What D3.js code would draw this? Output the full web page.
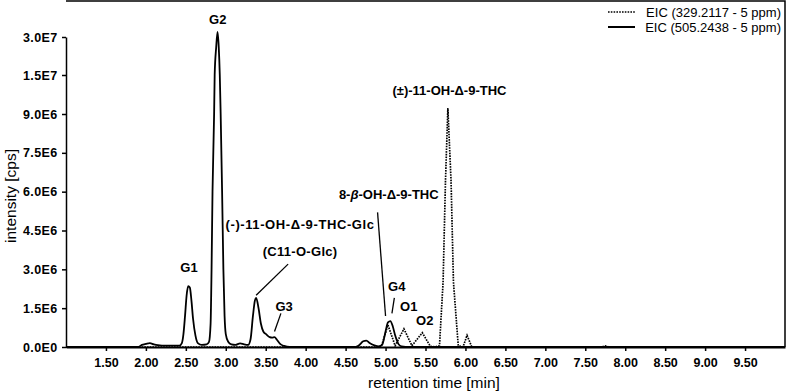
<!DOCTYPE html>
<html>
<head>
<meta charset="utf-8">
<script src="https://cdn.jsdelivr.net/npm/d3@7"></script>
<style>
    body { margin: 0; background: #fff; }
    svg text { font-family: "Liberation Sans", Arial, sans-serif; fill: #000; }
    .tick text { font-weight: bold; font-size: 12.5px; }
    .peak-label { font-weight: bold; font-size: 13px; }
</style>
</head>
<body>
<svg id="chart" width="787" height="391"></svg>
<script>
/**
 * Data: retention time [min], intensity [cps].
 */
// EIC (505.2438 - 5 ppm), solid trace
const eic505 = [
    [1.00, 0], [1.90, 0], [1.95, 0.08e6], [2.00, 0.12e6], [2.05, 0.15e6], [2.10, 0.10e6],
    [2.15, 0.07e6], [2.25, 0.05e6], [2.35, 0.05e6], [2.42, 0.05e6],
    // G1
    [2.45, 0.15e6], [2.47, 0.5e6], [2.49, 1.2e6], [2.51, 2.0e6], [2.53, 2.35e6], [2.55, 2.3e6],
    [2.57, 1.8e6], [2.59, 1.1e6], [2.62, 0.45e6], [2.65, 0.15e6], [2.70, 0.08e6], [2.76, 0.1e6],
    // G2
    [2.79, 0.2e6], [2.81, 0.9e6], [2.822, 3.0e6], [2.834, 6e6], [2.854, 9e6], [2.861, 1.5e7],
    [2.88, 2.6e7], [2.897, 3.2e7], [2.912, 2.6e7], [2.925, 1.5e7], [2.936, 9e6], [2.954, 6e6],
    [2.97, 3.0e6], [2.985, 1.2e6], [3.00, 0.5e6], [3.03, 0.2e6], [3.07, 0.1e6], [3.12, 0.08e6],
    [3.18, 0.14e6], [3.23, 0.1e6], [3.28, 0.08e6],
    // (-)-11-OH-Δ-9-THC-Glc and G3
    [3.31, 0.3e6], [3.34, 1.2e6], [3.365, 1.8e6], [3.38, 1.9e6], [3.41, 1.5e6], [3.44, 0.9e6],
    [3.47, 0.6e6], [3.51, 0.48e6], [3.55, 0.38e6], [3.58, 0.36e6], [3.61, 0.38e6], [3.64, 0.28e6],
    [3.68, 0.12e6], [3.73, 0.04e6], [3.80, 0], [4.60, 0],
    // small bump and G4
    [4.66, 0.05e6], [4.72, 0.22e6], [4.76, 0.25e6], [4.80, 0.15e6], [4.86, 0.06e6], [4.92, 0.02e6],
    [4.96, 0.1e6], [5.00, 0.6e6], [5.03, 0.95e6], [5.06, 1.0e6], [5.09, 0.8e6], [5.12, 0.45e6],
    [5.16, 0.12e6], [5.20, 0.02e6], [5.30, 0], [10.0, 0]
];

// EIC (329.2117 - 5 ppm), dotted trace
const eic329 = [
    [1.00, 0], [4.90, 0], [4.95, 0.05e6], [5.03, 0.85e6], [5.12, 0.05e6], [5.23, 0.7e6],
    [5.33, 0.05e6], [5.46, 0.55e6], [5.56, 0.03e6], [5.62, 0], [5.675, 0.05e6], [5.72, 2.5e6],
    [5.75, 6.4e6], [5.78, 9.9e6], [5.82, 6.4e6], [5.85, 2.5e6], [5.91, 0.05e6], [5.97, 0],
    [6.02, 0.45e6], [6.08, 0], [7.70, 0], [7.75, 0.04e6], [7.80, 0], [10.0, 0]
];

const xTicks = [1.5, 2, 2.5, 3, 3.5, 4, 4.5, 5, 5.5, 6, 6.5, 7, 7.5, 8, 8.5, 9, 9.5];
const yTicks = [0, 1.5e6, 3e6, 4.5e6, 6e6, 7.5e6, 9e6, 1.5e7, 3e7];
const yTickLabels = ['0.0E0', '1.5E6', '3.0E6', '4.5E6', '6.0E6', '7.5E6', '9.0E6', '1.5E7', '3.0E7'];

const legendItems = ['EIC (329.2117 - 5 ppm)', 'EIC (505.2438 - 5 ppm)'];

// Peak annotations: label position in data units, optional leader line
const peakLabels = [
    { text: 'G2', t: 2.90, v: 3.5e7 },
    { text: 'G1', t: 2.54, v: 2.9e6 },
    { text: '(-)-11-OH-Δ-9-THC-Glc', t: 3.93, v: 4.55e6, spacing: 0.6 },
    { text: '(C11-O-Glc)', t: 3.93, v: 3.5e6, spacing: 0.3, leader: [[3.78, 3.2e6], [3.38, 2.0e6]] },
    { text: 'G3', t: 3.73, v: 1.4e6, leader: [[3.69, 1.3e6], [3.61, 0.6e6]] },
    { text: '8-β-OH-Δ-9-THC', t: 5.04, v: 5.72e6, leader: [[4.90, 5.2e6], [5.00, 1.2e6]] },
    { text: 'G4', t: 5.14, v: 2.15e6, leader: [[5.11, 1.9e6], [5.08, 1.3e6]] },
    { text: 'O1', t: 5.29, v: 1.4e6 },
    { text: 'O2', t: 5.49, v: 0.85e6 },
    { text: '(±)-11-OH-Δ-9-THC', t: 5.80, v: 1.19e7 }
];

/**
 * Layout.
 */
const margin = { top: 1, right: 2, bottom: 44, left: 66 },
    visWidth = 787, visHeight = 391,
    width = visWidth - margin.left - margin.right,
    height = visHeight - margin.top - margin.bottom;

const svg = d3.select('#chart');
const g = svg.append('g').attr('transform', 'translate(' + margin.left + ',' + margin.top + ')');

/**
 * Scales. The y axis is broken: linear up to 9.0E6, compressed above.
 */
const xScale = d3.scaleLinear().domain([1, 10]).range([0, width]);
const yScale = d3.scaleLinear()
    .domain([0, 9e6, 1.5e7, 3e7])
    .range([height, height - 233, height - 272, height - 310]);

/**
 * Axes.
 */
const xAxis = g.append('g')
    .attr('class', 'x-axis')
    .attr('transform', 'translate(0,' + height + ')')
    .call(d3.axisBottom(xScale).tickValues(xTicks).tickFormat(d3.format('.2f')).tickSize(4).tickSizeOuter(0));
xAxis.select('.domain').attr('stroke-width', 2);
xAxis.selectAll('.tick line').attr('stroke-width', 1.5);
xAxis.selectAll('.tick text').attr('y', 11);

const yAxis = g.append('g')
    .attr('class', 'y-axis')
    .call(d3.axisLeft(yScale).tickValues(yTicks).tickFormat((d, i) => yTickLabels[i]).tickSize(4).tickSizeOuter(0));
yAxis.select('.domain').attr('stroke-width', 1.5);
yAxis.selectAll('.tick line').attr('stroke-width', 1.5);
yAxis.selectAll('.tick text')
    .attr('text-anchor', 'start')
    .attr('letter-spacing', 0.4)
    .attr('x', -43);

// Frame on top and right
g.append('path')
    .attr('d', 'M0,0H' + width + 'V' + height)
    .attr('fill', 'none')
    .attr('stroke', '#000')
    .attr('stroke-width', 1.5);

/**
 * Traces.
 */
const line = d3.line()
    .x(d => xScale(d[0]))
    .y(d => yScale(d[1]));

g.append('path')
    .datum(eic329)
    .attr('fill', 'none')
    .attr('stroke', '#000')
    .attr('stroke-width', 1.7)
    .attr('stroke-dasharray', '1.6,1.1')
    .attr('d', line.curve(d3.curveLinear));

g.append('path')
    .datum(eic505)
    .attr('fill', 'none')
    .attr('stroke', '#000')
    .attr('stroke-width', 1.8)
    .attr('stroke-linejoin', 'round')
    .attr('d', line.curve(d3.curveMonotoneX));

/**
 * Peak labels.
 */
const labels = g.selectAll('.peak-label').data(peakLabels).enter();

labels.append('text')
    .attr('class', 'peak-label')
    .attr('text-anchor', 'middle')
    .attr('letter-spacing', d => d.spacing || null)
    .attr('x', d => xScale(d.t))
    .attr('y', d => yScale(d.v))
    .each(function(d) {
        const text = d3.select(this);
        if (d.text.indexOf('β') < 0) {
            text.text(d.text);
            return;
        }
        const parts = d.text.split('β');
        text.append('tspan').text(parts[0]);
        text.append('tspan').attr('font-style', 'italic').text('β');
        text.append('tspan').text(parts[1]);
    });

g.selectAll('.leader')
    .data(peakLabels.filter(d => d.leader))
    .enter().append('line')
    .attr('class', 'leader')
    .attr('x1', d => xScale(d.leader[0][0]))
    .attr('y1', d => yScale(d.leader[0][1]))
    .attr('x2', d => xScale(d.leader[1][0]))
    .attr('y2', d => yScale(d.leader[1][1]))
    .attr('stroke', '#000')
    .attr('stroke-width', 1.3);

/**
 * Axis titles.
 */
svg.append('text')
    .attr('text-anchor', 'middle')
    .attr('font-size', 15.5)
    .attr('transform', 'translate(16,196) rotate(-90)')
    .text('intensity [cps]');

svg.append('text')
    .attr('text-anchor', 'middle')
    .attr('font-size', 15.5)
    .attr('x', 434)
    .attr('y', 388)
    .text('retention time [min]');

/**
 * Legend.
 */
const legend = svg.append('g').attr('class', 'legend');
legendItems.forEach((label, i) => {
    const y = 12 + i * 15;
    legend.append('line')
        .attr('x1', 608).attr('x2', 635)
        .attr('y1', y).attr('y2', y)
        .attr('stroke', '#000')
        .attr('stroke-width', i === 0 ? 1.5 : 2)
        .attr('stroke-dasharray', i === 0 ? '1.6,1.2' : null);
    legend.append('text')
        .attr('x', 781)
        .attr('y', y + 4.5)
        .attr('text-anchor', 'end')
        .attr('font-size', 13)
        .text(label);
});
</script>
</body>
</html>
